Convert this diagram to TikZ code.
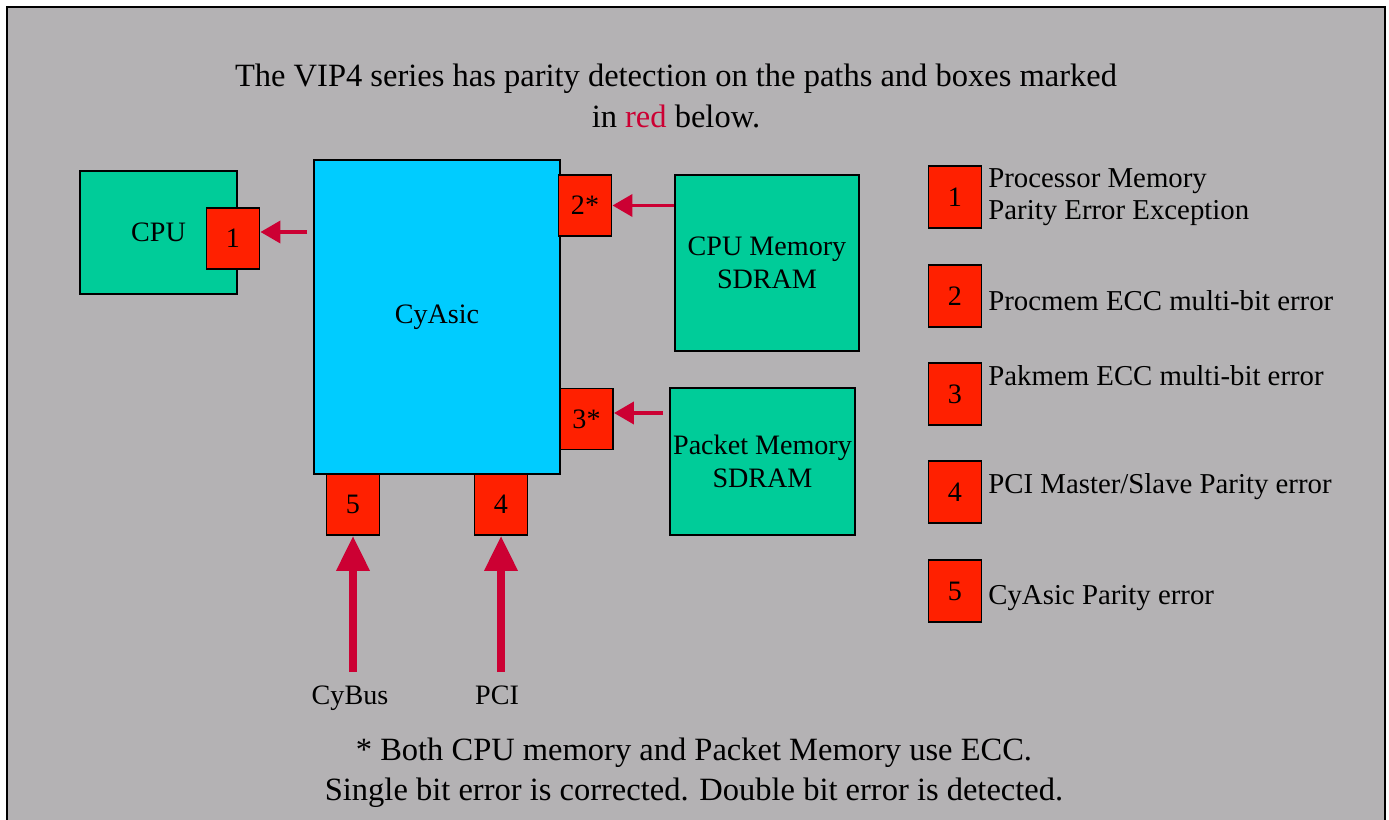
\documentclass[tikz,border=0pt]{standalone}
\usepackage{fontspec}
\setmainfont{Liberation Serif}
\usepackage{tikz}
\usetikzlibrary{positioning, arrows.meta}
\definecolor{frameGray}{RGB}{180,178,180}
\definecolor{blockGreen}{RGB}{0,204,153}
\definecolor{asicCyan}{RGB}{0,204,255}
\definecolor{errRed}{RGB}{255,32,0}
\definecolor{linkRed}{RGB}{204,0,51}
\tikzset{
	block/.append style={
		draw,
		line width=1.1pt,
		align = center,
		inner sep=0pt,
		font={\fontsize{16}{19}\selectfont},
	},
	errbox/.append style={
		block,
		fill=errRed,
		minimum width=1.06cm,
		minimum height=1.22cm,
	},
	labe/.append style={
		align = left,
		inner sep=0pt,
		font={\fontsize{16.4}{18.2}\selectfont},
	},
	note/.append style={
		align = center,
		inner sep=0pt,
		font={\fontsize{18.5}{23}\selectfont},
	},
	thinlink/.append style={
		draw=linkRed,
		line width=2.2pt,
		-{Triangle[length=0.4cm, width=0.44cm]},
	},
	buslink/.append style={
		draw=linkRed,
		line width=4pt,
		-{Triangle[length=0.7cm, width=0.64cm]},
	}
}

\begin{document}
\begin{tikzpicture}[x=0.02cm, y=-0.02cm]
	\useasboundingbox (0,0) rectangle (1389,820);
	\fill[frameGray] (7,7) rectangle (1385,820);
	\draw[line width=1.2pt] (7,820) -- (7,7) -- (1385,7) -- (1385,820);
	
	\node (title)[note] at (676,96) {The VIP4 series has parity detection on the paths and boxes marked\\in {\color{linkRed}red} below.};
	
	\node (cpuBox)[block, fill=blockGreen, minimum width=3.14cm, minimum height=2.46cm] at (158.5,232.5) {CPU};
	\node (err1)[errbox] at (233,238.5) {1};
	
	\node (cyAsic)[block, fill=asicCyan, minimum width=4.92cm, minimum height=6.28cm] at (437,317) {CyAsic};
	
	\node (memCPU)[block, fill=blockGreen, minimum width=3.68cm, minimum height=3.52cm] at (767,263) {CPU Memory\\SDRAM};
	\node (memPacket)[block, fill=blockGreen, minimum width=3.7cm, minimum height=2.94cm] at (762.5,461.5) {Packet Memory\\SDRAM};
	
	\node (err2)[errbox] at (585,205.5) {2*};
	\node (err3)[errbox] at (586.5,419) {3*};
	\node (err5)[errbox] at (353,504.5) {5};
	\node (err4)[errbox] at (501,504.5) {4};
	
	\coordinate (tap1) at (307,232);
	\coordinate (tap3) at (663,413);
	\draw[thinlink] (tap1) to (tap1 -| err1.east);
	\draw[thinlink] (memCPU.west |- err2) to (err2.east);
	\draw[thinlink] (tap3) to (tap3 -| err3.east);
	
	\node (busCy)[block, draw=none, anchor=base] at (350,704) {CyBus};
	\node (busPCI)[block, draw=none, anchor=base] at (497,704) {PCI};
	\coordinate (busCyEnd) at (353,672);
	\coordinate (busPCIEnd) at (501,672);
	\draw[buslink] (busCyEnd) to (err5.south);
	\draw[buslink] (busPCIEnd) to (err4.south);
	
	% legend
	\node (key1)[errbox, minimum height=1.24cm] at (955,197) {1};
	\node (key2)[errbox, minimum height=1.24cm] at (955,296) {2};
	\node (key3)[errbox, minimum height=1.24cm] at (955,394) {3};
	\node (key4)[errbox, minimum height=1.24cm] at (955,492) {4};
	\node (key5)[errbox, minimum height=1.24cm] at (955,591) {5};
	\node (txt1)[labe, anchor=west] at (988,197) {Processor Memory\\Parity Error Exception};
	\node (txt2)[labe, anchor=west] at (988,301) {Procmem ECC multi-bit error};
	\node (txt3)[labe, anchor=west] at (988,376) {Pakmem ECC multi-bit error};
	\node (txt4)[labe, anchor=west] at (988,487) {PCI Master/Slave Parity error};
	\node (txt5)[labe, anchor=west] at (988,598) {CyAsic Parity error};
	
	\node (footer)[note] at (694,773) {* Both CPU memory and Packet Memory use ECC.\\Single bit error is corrected. Double bit error is detected.};
	
\end{tikzpicture}
\end{document}
